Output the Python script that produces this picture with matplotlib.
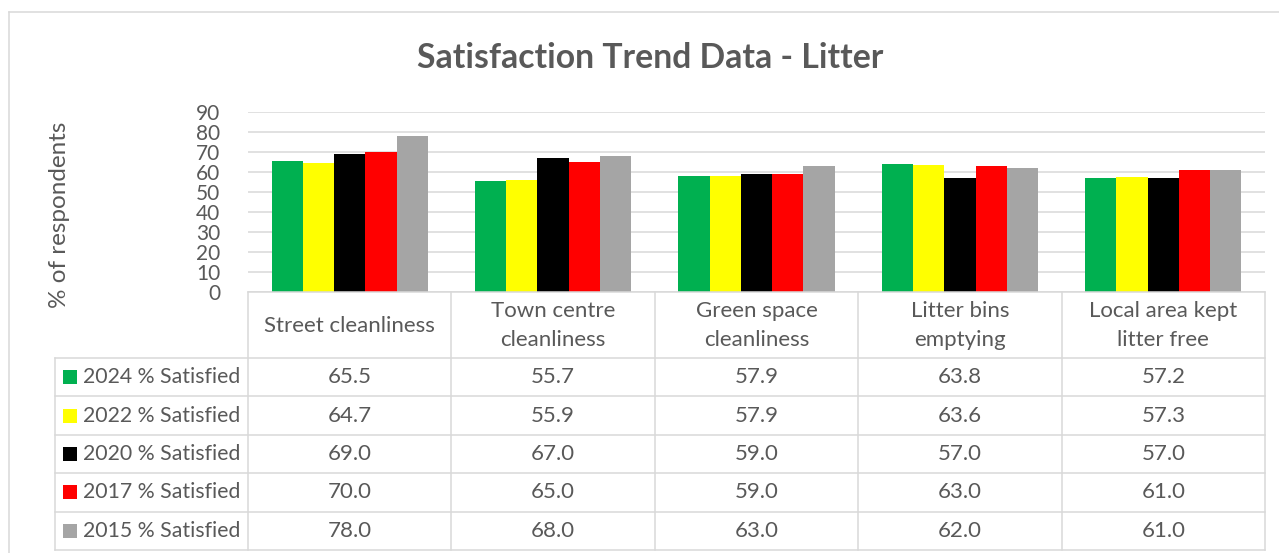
import matplotlib
matplotlib.use("Agg")
import matplotlib.pyplot as plt
from matplotlib.lines import Line2D
from matplotlib.patches import Rectangle
import matplotlib.transforms as mtransforms

categories = ["Street cleanliness", "Town centre\ncleanliness", "Green space\ncleanliness",
              "Litter bins\nemptying", "Local area kept\nlitter free"]
series_names = ["2024 % Satisfied", "2022 % Satisfied", "2020 % Satisfied",
                "2017 % Satisfied", "2015 % Satisfied"]
v2024 = [65.5, 55.7, 57.9, 63.8, 57.2]
v2022 = [64.7, 55.9, 57.9, 63.6, 57.3]
v2020 = [69.0, 67.0, 59.0, 57.0, 57.0]
v2017 = [70.0, 65.0, 59.0, 63.0, 61.0]
v2015 = [78.0, 68.0, 63.0, 62.0, 61.0]
series_values = [v2024, v2022, v2020, v2017, v2015]
colors = ["#00B050", "#FFFF00", "#000000", "#FF0000", "#A5A5A5"]
yticks = [0, 10, 20, 30, 40, 50, 60, 70, 80, 90]

W, H = 1279, 553
plt.rcParams['font.family'] = ['Lato', 'DejaVu Sans']
TXT = "#595959"
GRID = "#D9D9D9"

fig = plt.figure(figsize=(W / 100, H / 100), dpi=100)
fig.patch.set_facecolor("white")

def fx(x):
    return x / W

def fy(y):
    return 1 - y / H

ax_l, ax_r, ax_t, ax_b = 248, 1265, 112, 292
ax = fig.add_axes([fx(ax_l), fy(ax_b), fx(ax_r - ax_l), (ax_b - ax_t) / H])
n = len(categories)
ax.set_xlim(-0.5, n - 0.5)
ax.set_ylim(0, 90)
ax.set_yticks(yticks)
ax.set_xticks([])
for s in ax.spines.values():
    s.set_visible(False)
ax.yaxis.grid(True, color=GRID, linewidth=1.1)
ax.set_axisbelow(True)
ax.tick_params(axis='y', length=0, labelsize=15, labelcolor=TXT, pad=20)

bw = 0.1535
for j, (vals, c) in enumerate(zip(series_values, colors)):
    xs = [i + (j - 2) * bw for i in range(n)]
    ax.bar(xs, vals, width=bw, color=c, linewidth=0, zorder=3)

fig.text(fx(60), fy(215), "% of respondents", rotation=90, ha='center', va='center',
         fontsize=17.5, color=TXT)

fig.text(fx(650), fy(58), "Satisfaction Trend Data - Litter", ha='center', va='center',
         fontsize=24.3, fontweight='bold', color=TXT)

# outer chart border
fig.add_artist(Line2D([fx(9), fx(9)], [fy(12), 0], color=GRID, lw=1.1))
fig.add_artist(Line2D([fx(9), 1], [fy(12), fy(12)], color=GRID, lw=1.1))

# data table
trans = mtransforms.blended_transform_factory(ax.transData, fig.transFigure)
hdr_top, hdr_bot = 292, 358
row_h = 38.4
rows_y = [hdr_bot + k * row_h for k in range(len(series_names) + 1)]
leg_l = 55

fig.add_artist(Line2D([fx(ax_l), fx(ax_r)], [fy(hdr_top), fy(hdr_top)], color=GRID, lw=1.1))
for y in rows_y:
    fig.add_artist(Line2D([fx(leg_l), fx(ax_r)], [fy(y), fy(y)], color=GRID, lw=1.1))
fig.add_artist(Line2D([fx(leg_l), fx(leg_l)], [fy(rows_y[0]), fy(rows_y[-1])], color=GRID, lw=1.1))
for i in range(n + 1):
    xe = i - 0.5
    fig.add_artist(Line2D([xe, xe], [fy(hdr_top), fy(rows_y[-1])], color=GRID, lw=1.1,
                          transform=trans))

for i, cat in enumerate(categories):
    ax.text(i, fy((hdr_top + hdr_bot) / 2 + 0.5), cat, transform=trans, ha='center', va='center',
            fontsize=16, color=TXT, linespacing=1.55, clip_on=False)

for k, (name, vals, c) in enumerate(zip(series_names, series_values, colors)):
    yc = (rows_y[k] + rows_y[k + 1]) / 2
    fig.add_artist(Rectangle((fx(63), fy(yc + 7)), fx(14), 14 / H, facecolor=c,
                             edgecolor='none', transform=fig.transFigure))
    fig.text(fx(83), fy(yc), name, ha='left', va='center', fontsize=15.3, color=TXT)
    for i, v in enumerate(vals):
        ax.text(i, fy(yc), f"{v:.1f}", transform=trans, ha='center', va='center',
                fontsize=16, color=TXT, clip_on=False)

fig.savefig("out.png", dpi=100, facecolor="white")
